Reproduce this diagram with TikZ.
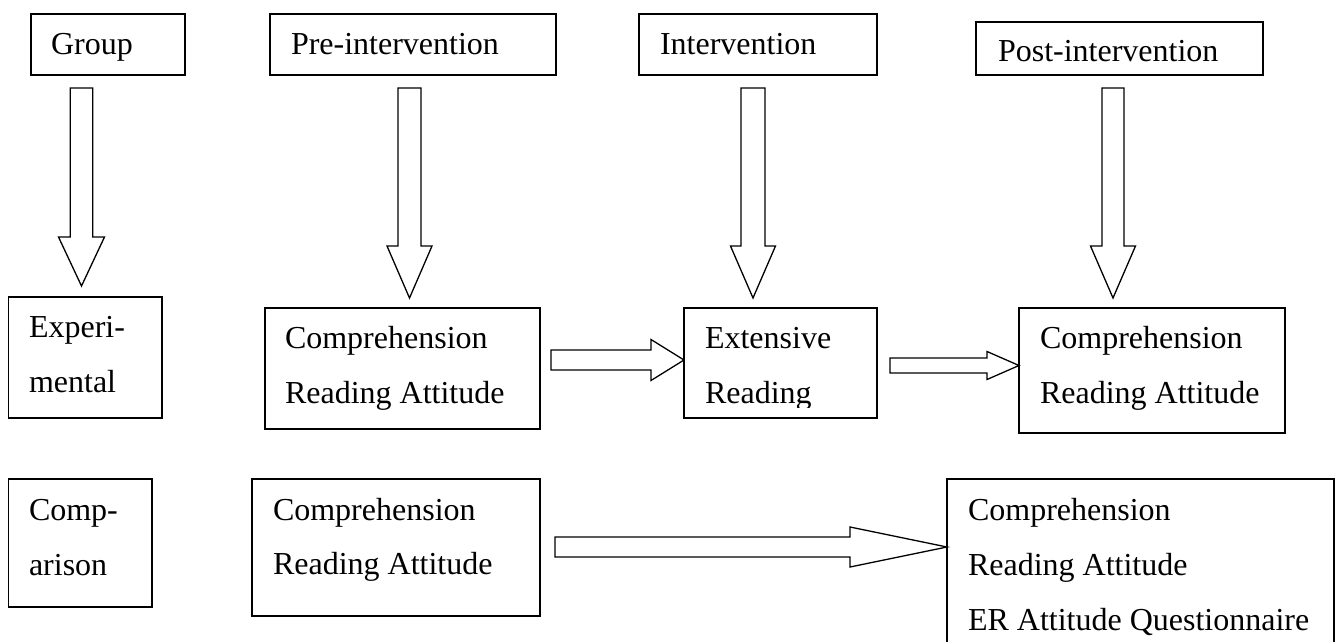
\documentclass[tikz,border=0pt]{standalone}
\usepackage{fontspec}
\setmainfont{Liberation Serif}
\usetikzlibrary{calc}
\tikzset{
  box/.style={draw, line width=1.5pt, inner sep=0pt, outer sep=0pt},
  txt/.style={inner sep=0pt, outer sep=0pt, anchor=base west, font=\fontsize{32}{38}\selectfont},
  blk/.style={draw, line width=1.3pt, line join=miter, fill=white}
}
\newcommand{\DownBlock}[5]{%
  \draw[blk] ($(#1)+(-#3,0)$) -- ($(#2)+(-#3,-#5)$) -- ($(#2)+(-#4,-#5)$) -- (#2)
    -- ($(#2)+(#4,-#5)$) -- ($(#2)+(#3,-#5)$) -- ($(#1)+(#3,0)$) -- cycle;}
\newcommand{\RightBlock}[5]{%
  \draw[blk] ($(#1)+(0,-#3)$) -- ($(#2)+(-#5,-#3)$) -- ($(#2)+(-#5,-#4)$) -- (#2)
    -- ($(#2)+(-#5,#4)$) -- ($(#2)+(-#5,#3)$) -- ($(#1)+(0,#3)$) -- cycle;}
\newcommand{\FrameBox}[5]{%
  \node[box, anchor=north west, minimum width=#4pt, minimum height=#5pt] (#1) at (#2,#3) {};}
\begin{document}
\begin{tikzpicture}[x=1pt, y=-1pt]
\clip (0,0) rectangle (1339,642);
\useasboundingbox (0,0) rectangle (1339,642);
\fill[white] (0,0) rectangle (1339,642);

% top row
\FrameBox{grp}{31}{14}{154}{61}
\FrameBox{pre}{270}{14}{286}{61}
\FrameBox{int}{639}{14}{238}{61}
\FrameBox{post}{976}{22}{287}{53}
\node[txt] (grpT) at (51,55) {Group};
\node[txt] (preT) at (291,55) {Pre-intervention};
\node[txt] (intT) at (660,55) {Intervention};
\node[txt] (postT) at (998,62) {Post-intervention};

% middle row
\FrameBox{exp}{8.5}{297}{153.5}{121}
\FrameBox{cmpA}{265}{308}{275}{121}
\FrameBox{ext}{684}{308}{193}{110}
\FrameBox{pcmp}{1019}{308}{266}{125}
\node[txt] (expT1) at (29,337) {Experi-};
\node[txt] (expT2) at (29,392) {mental};
\node[txt] (cmpAT1) at (285,348) {Comprehension};
\node[txt] (cmpAT2) at (285,403) {Reading Attitude};
\node[txt] (extT1) at (705,348) {Extensive};
\begin{scope}
  \clip (684,370) rectangle (877,407);
  \node[txt] (extT2) at (705,403) {Reading};
\end{scope}
\node[txt] (pcmpT1) at (1040,348) {Comprehension};
\node[txt] (pcmpT2) at (1040,403) {Reading Attitude};

% bottom row
\FrameBox{cmpg}{8.5}{479}{143.5}{128}
\FrameBox{cmpB}{252}{479}{288}{137}
\FrameBox{fin}{947}{479}{387}{190}
\node[txt] (cmpgT1) at (29,520) {Comp-};
\node[txt] (cmpgT2) at (29,575) {arison};
\node[txt] (cmpBT1) at (273,520) {Comprehension};
\node[txt] (cmpBT2) at (273,574) {Reading Attitude};
\node[txt] (finT1) at (968,520) {Comprehension};
\node[txt] (finT2) at (968,575) {Reading Attitude};
\node[txt] (finT3) at (968,630) {ER Attitude Questionnaire};

% down arrows
\coordinate (g0) at (81.5,88);   \coordinate (g1) at (81.5,286);
\coordinate (p0) at (409.5,88);  \coordinate (p1) at (409.5,298);
\coordinate (i0) at (753,88);    \coordinate (i1) at (753,298);
\coordinate (q0) at (1113,88);   \coordinate (q1) at (1113,298);
\DownBlock{g0}{g1}{11.3}{23}{49}
\DownBlock{p0}{p1}{11.5}{22.5}{52}
\DownBlock{i0}{i1}{12}{22.5}{52}
\DownBlock{q0}{q1}{11}{22.5}{52}

% horizontal arrows
\coordinate (a0) at ($(cmpA.east |- 0,360)+(11,0)$);
\coordinate (a1) at (ext.west |- a0);
\RightBlock{a0}{a1}{10}{20.5}{33}
\coordinate (b0) at ($(ext.east |- 0,365.5)+(13,0)$);
\coordinate (b1) at (pcmp.west |- b0);
\RightBlock{b0}{b1}{7.5}{14}{32}
\coordinate (c0) at ($(cmpB.east |- 0,547)+(15,0)$);
\coordinate (c1) at (fin.west |- c0);
\RightBlock{c0}{c1}{10}{20}{97}
\end{tikzpicture}
\end{document}
